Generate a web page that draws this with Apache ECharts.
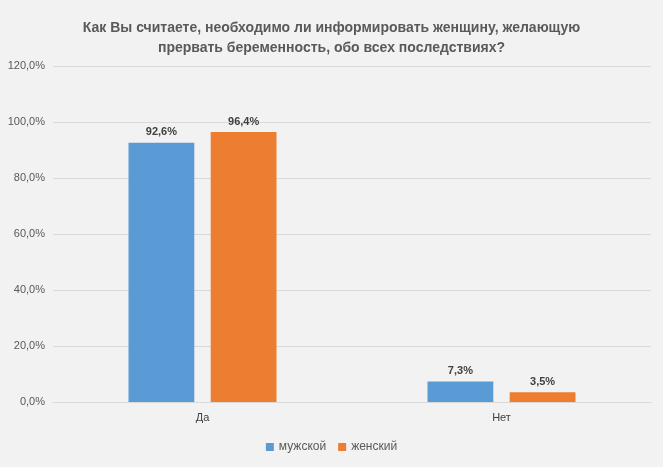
<!DOCTYPE html>
<html>
<head>
<meta charset="UTF-8">
<script src="https://cdn.jsdelivr.net/npm/echarts@6/dist/echarts.min.js"></script>
</head>
<body style="margin:0;">
<div id="container" style="width:663px;height:467px;"></div>
<script>
var categories = ['Да', 'Нет'];
var male = [92.6, 7.3];
var female = [96.4, 3.5];
var seriesNames = ['мужской', 'женский'];

var chart = echarts.init(document.getElementById('container'));
function pct(v) { return v.toFixed(1).replace('.', ',') + '%'; }
var label = {
  show: true, position: 'top', fontSize: 11, fontWeight: 'bold', color: '#404040',
  fontFamily: 'Liberation Sans', formatter: function (p) { return pct(p.value); }
};
chart.setOption({
  backgroundColor: '#f2f2f2',
  animation: false,
  textStyle: { fontFamily: 'Liberation Sans' },
  title: {
    text: 'Как Вы считаете, необходимо ли информировать женщину, желающую\nпрервать беременность, обо всех последствиях?',
    left: 'center', top: 13,
    textStyle: { fontSize: 14, fontWeight: 'bold', color: '#595959', lineHeight: 20, fontFamily: 'Liberation Sans' }
  },
  legend: {
    bottom: 9, itemWidth: 8, itemHeight: 8, itemGap: 12, icon: 'rect',
    textStyle: { fontSize: 12, color: '#595959' },
    data: seriesNames
  },
  grid: { left: 53, right: 12, top: 66, bottom: 65, containLabel: false },
  xAxis: {
    type: 'category', data: categories,
    axisLine: { lineStyle: { color: '#d9d9d9' } },
    axisTick: { show: false },
    axisLabel: { fontSize: 11, color: '#404040', margin: 10 }
  },
  yAxis: {
    type: 'value', min: 0, max: 120, interval: 20,
    axisLabel: { fontSize: 11, color: '#595959', formatter: function (v) { return pct(v); } },
    splitLine: { lineStyle: { color: '#d9d9d9' } },
    axisLine: { show: false }
  },
  series: [
    { name: seriesNames[0], type: 'bar', data: male, barWidth: '22%', barGap: '25%',
      itemStyle: { color: '#5b9bd5' }, label: label },
    { name: seriesNames[1], type: 'bar', data: female, barWidth: '22%',
      itemStyle: { color: '#ed7d31' }, label: label }
  ]
});
</script>
</body>
</html>
